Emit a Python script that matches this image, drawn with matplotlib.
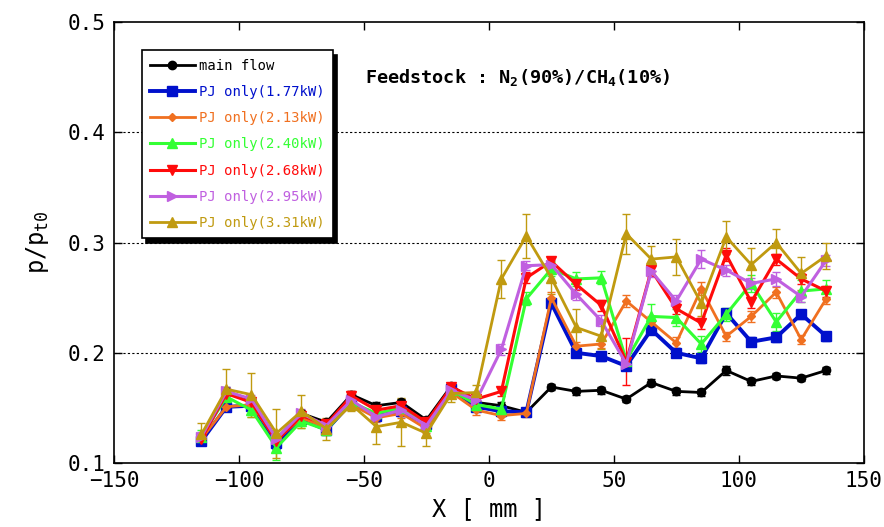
import matplotlib
matplotlib.use("Agg")
import matplotlib.pyplot as plt

plt.rcParams['font.family'] = ['DejaVu Sans Mono', 'DejaVu Sans']
plt.rcParams['mathtext.default'] = 'regular'

# positions [mm]
x = [-115, -105, -95, -85, -75, -65, -55, -45, -35, -25, -15, -5, 5,
     15, 25, 35, 45, 55, 65, 75, 85, 95, 105, 115, 125, 135]

main_flow = [0.123, 0.165, 0.157, 0.122, 0.145, 0.137, 0.162, 0.152, 0.155, 0.139, 0.170, 0.155, 0.152,
             0.146, 0.169, 0.165, 0.166, 0.158, 0.173, 0.165, 0.164, 0.184, 0.174, 0.179, 0.177, 0.184]
pj_177 = [0.120, 0.151, 0.152, 0.118, 0.140, 0.130, 0.155, 0.143, 0.147, 0.135, 0.167, 0.151, 0.147,
          0.146, 0.245, 0.200, 0.197, 0.188, 0.221, 0.200, 0.195, 0.236, 0.210, 0.214, 0.235, 0.215]
pj_213 = [0.122, 0.151, 0.153, 0.121, 0.141, 0.132, 0.153, 0.141, 0.145, 0.131, 0.164, 0.148, 0.143,
          0.145, 0.250, 0.206, 0.208, 0.247, 0.228, 0.209, 0.258, 0.215, 0.233, 0.255, 0.212, 0.249]
pj_240 = [0.124, 0.160, 0.148, 0.114, 0.138, 0.130, 0.155, 0.145, 0.150, 0.134, 0.166, 0.153, 0.149,
          0.249, 0.276, 0.267, 0.268, 0.193, 0.233, 0.232, 0.208, 0.235, 0.263, 0.228, 0.256, 0.258]
pj_268 = [0.122, 0.163, 0.155, 0.120, 0.143, 0.135, 0.161, 0.148, 0.152, 0.137, 0.169, 0.158, 0.165,
          0.268, 0.283, 0.262, 0.243, 0.192, 0.275, 0.240, 0.227, 0.289, 0.246, 0.285, 0.267, 0.256]
pj_295 = [0.124, 0.165, 0.158, 0.122, 0.145, 0.134, 0.157, 0.142, 0.148, 0.134, 0.166, 0.157, 0.203,
          0.279, 0.280, 0.253, 0.229, 0.190, 0.274, 0.247, 0.285, 0.275, 0.263, 0.267, 0.251, 0.284]
pj_331 = [0.126, 0.167, 0.162, 0.127, 0.147, 0.131, 0.153, 0.133, 0.137, 0.127, 0.163, 0.164, 0.267,
          0.306, 0.268, 0.223, 0.215, 0.308, 0.285, 0.287, 0.245, 0.305, 0.280, 0.300, 0.272, 0.288]

# error bar half-widths
err_main = [0.003, 0.004, 0.003, 0.003, 0.003, 0.003, 0.003, 0.003, 0.003, 0.003, 0.003, 0.003, 0.003,
            0.003, 0.003, 0.003, 0.003, 0.003, 0.003, 0.003, 0.003, 0.004, 0.003, 0.003, 0.003, 0.003]
err_177 = [0.004, 0.004, 0.004, 0.005, 0.004, 0.004, 0.004, 0.004, 0.004, 0.004, 0.004, 0.004, 0.004,
           0.003, 0.004, 0.004, 0.004, 0.004, 0.004, 0.004, 0.004, 0.004, 0.004, 0.004, 0.004, 0.004]
err_213 = [0.005, 0.004, 0.004, 0.005, 0.004, 0.004, 0.004, 0.004, 0.004, 0.004, 0.004, 0.004, 0.004,
           0.003, 0.005, 0.004, 0.004, 0.005, 0.005, 0.005, 0.006, 0.004, 0.005, 0.005, 0.004, 0.005]
err_240 = [0.006, 0.006, 0.006, 0.011, 0.006, 0.005, 0.005, 0.005, 0.006, 0.005, 0.005, 0.004, 0.004,
           0.006, 0.006, 0.006, 0.006, 0.006, 0.011, 0.008, 0.007, 0.006, 0.008, 0.008, 0.010, 0.008]
err_268 = [0.004, 0.004, 0.004, 0.004, 0.004, 0.004, 0.004, 0.004, 0.004, 0.004, 0.004, 0.004, 0.004,
           0.005, 0.004, 0.005, 0.005, 0.021, 0.005, 0.005, 0.005, 0.006, 0.005, 0.005, 0.005, 0.005]
err_295 = [0.004, 0.004, 0.004, 0.004, 0.004, 0.004, 0.004, 0.004, 0.004, 0.004, 0.004, 0.004, 0.005,
           0.004, 0.004, 0.005, 0.005, 0.005, 0.005, 0.005, 0.008, 0.005, 0.005, 0.006, 0.005, 0.005]
err_331 = [0.010, 0.018, 0.020, 0.022, 0.015, 0.010, 0.006, 0.016, 0.022, 0.012, 0.008, 0.007, 0.017,
           0.020, 0.015, 0.017, 0.012, 0.018, 0.012, 0.016, 0.012, 0.015, 0.015, 0.012, 0.015, 0.012]

labels = ["main flow", "PJ only(1.77kW)", "PJ only(2.13kW)", "PJ only(2.40kW)",
          "PJ only(2.68kW)", "PJ only(2.95kW)", "PJ only(3.31kW)"]
series = [main_flow, pj_177, pj_213, pj_240, pj_268, pj_295, pj_331]
errors = [err_main, err_177, err_213, err_240, err_268, err_295, err_331]

colors = ["#000000", "#0010cc", "#f07020", "#33ff33", "#ff0a0a", "#c060e0", "#c09a10"]
markers = ["o", "s", "D", "^", "v", ">", "^"]
msizes = [6, 7, 4.5, 6.5, 6.5, 6.5, 6.5]
lwidths = [2.0, 2.8, 2.0, 2.2, 2.2, 2.2, 2.0]

fig = plt.figure(figsize=(8.84, 5.27), dpi=100)
ax = fig.add_axes([0.129, 0.1214, 0.848, 0.8366])

handles = []
for y, e, lab, c, m, ms, lw in zip(series, errors, labels, colors, markers, msizes, lwidths):
    cont = ax.errorbar(x, y, yerr=e, color=c, marker=m, markersize=ms, linewidth=lw,
                       elinewidth=1.0, capsize=3, capthick=1.0, ecolor=c, label=lab)
    handles.append(cont[0])

ax.set_xlim(-150, 150)
ax.set_ylim(0.1, 0.5)
ax.set_xticks([-150, -100, -50, 0, 50, 100, 150])
ax.set_yticks([0.1, 0.2, 0.3, 0.4, 0.5])
ax.set_yticklabels(["0.1", "0.2", "0.3", "0.4", "0.5"])
ax.tick_params(direction="in", length=6, width=1, labelsize=15, right=True, top=True, pad=6)
for yg in [0.2, 0.3, 0.4]:
    ax.axhline(yg, color="black", linestyle=(0, (2, 2)), linewidth=0.8, zorder=0)
for sp in ax.spines.values():
    sp.set_linewidth(1.2)

ax.set_xlabel("X [ mm ]", fontsize=17, labelpad=4)
ax.set_ylabel(r"p/p$_{t0}$", fontsize=17, labelpad=12)

ax.text(0.335, 0.862, r"Feedstock : N$_2$(90%)/CH$_4$(10%)", transform=ax.transAxes,
        fontsize=13.3, fontweight="bold")

leg = ax.legend(handles=handles, labels=labels, loc="upper left",
                bbox_to_anchor=(0.037, 0.936), fontsize=10,
                frameon=True, fancybox=False, edgecolor="black", framealpha=1,
                shadow={"color": "black", "alpha": 1, "ox": 3, "oy": -3},
                handlelength=3.2, handletextpad=0.3, labelspacing=0.88,
                borderpad=0.6, borderaxespad=0)
leg.get_frame().set_linewidth(1.2)
for txt, c in zip(leg.get_texts(), colors):
    txt.set_color(c)

fig.savefig("out.png", dpi=100)
